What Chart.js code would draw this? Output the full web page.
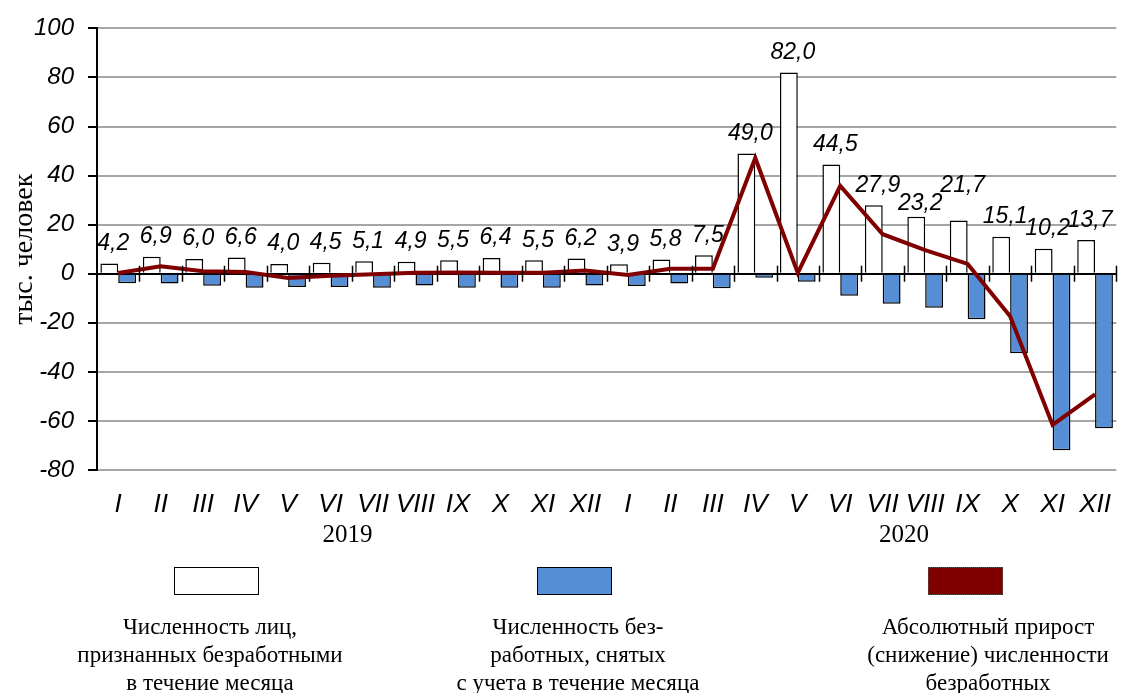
<!DOCTYPE html>
<html lang="ru">
<head>
<meta charset="utf-8">
<title>Безработные</title>
<script src="https://cdn.jsdelivr.net/npm/chart.js@4.4.1/dist/chart.umd.min.js"></script>
<style>
  body { margin: 0; background: #fff; }
  #wrap { position: relative; width: 1130px; height: 693px; }
  .box { position: absolute; top: 567px; height: 28px; box-sizing: border-box; border: 1.5px solid #000; }
  .txt { position: absolute; top: 613px; width: 360px; text-align: center; color: #000;
         font: 23px "Liberation Serif", "Times New Roman", serif; line-height: 28px; }
</style>
</head>
<body>
<div id="wrap">
  <canvas id="chart" width="1130" height="693"></canvas>
  <div class="box" style="left:174px;width:85px;background:#fff;"></div>
  <div class="box" style="left:537px;width:75px;background:#558ed5;"></div>
  <div class="box" style="left:928px;width:75px;background:#800000;border:1.5px dotted #555;"></div>
  <div class="txt" style="left:30px;">Численность лиц,<br>признанных безработными<br>в течение месяца</div>
  <div class="txt" style="left:398px;">Численность без-<br>работных, снятых<br>с учета в течение месяца</div>
  <div class="txt" style="left:808px;">Абсолютный прирост<br>(снижение) численности<br>безработных</div>
</div>
<script>
// данные: 2019-2020, тыс. человек
const months = ['I','II','III','IV','V','VI','VII','VIII','IX','X','XI','XII',
                'I','II','III','IV','V','VI','VII','VIII','IX','X','XI','XII'];
const years = ['2019', '2020'];
const yearAt = [5.4, 18.5];   // положение подписи года (индекс месяца)

// признаны безработными в течение месяца
const registered = [4.2, 6.9, 6.0, 6.6, 4.0, 4.5, 5.1, 4.9, 5.5, 6.4, 5.5, 6.2,
                    3.9, 5.8, 7.5, 49.0, 82.0, 44.5, 27.9, 23.2, 21.7, 15.1, 10.2, 13.7];
const removed = [-3.9, -4.0, -4.9, -5.7, -5.4, -5.4, -5.7, -4.8, -5.7, -5.7, -5.7, -4.8,
                 -5.0, -4.0, -5.9, -1.6, -3.3, -9.0, -12.2, -13.9, -18.6, -32.4, -72.0, -63.0];
// абсолютный прирост (снижение)
const change = [0.3, 3.0, 1.0, 0.7, -1.7, -0.8, -0.2, 0.4, 0.5, 0.4, 0.4, 1.3,
                -0.5, 2.0, 2.0, 47.2, 0.3, 35.8, 16.1, 9.6, 4.0, -17.3, -61.6, -49.2];

const sans = "'Liberation Sans', Arial, sans-serif";
const serif = "'Liberation Serif', 'Times New Roman', serif";

// подписи над белыми столбиками
const barLabels = {
  id: 'barLabels',
  afterDatasetsDraw(chart) {
    const ctx = chart.ctx;
    const meta = chart.getDatasetMeta(1);
    const nudge = { 19: 7, 20: -15 };
    ctx.save();
    ctx.font = 'italic 23px ' + sans;
    ctx.fillStyle = '#000';
    ctx.textAlign = 'center';
    ctx.textBaseline = 'middle';
    meta.data.forEach((bar, i) => {
      const txt = registered[i].toFixed(1).replace('.', ',');
      ctx.fillText(txt, bar.x + 4, bar.y - 20 + (nudge[i] || 0));
    });
    ctx.restore();
  }
};

// засечки на нулевой линии и подписи годов
const axisExtras = {
  id: 'axisExtras',
  afterDraw(chart) {
    const ctx = chart.ctx;
    const x = chart.scales.x, y = chart.scales.y;
    const y0 = y.getPixelForValue(0);
    ctx.save();
    ctx.strokeStyle = '#000';
    ctx.lineWidth = 1.5;
    for (let i = 1; i <= months.length; i++) {
      const px = Math.round(x.getPixelForValue(i - 0.5)) + 0.5;
      ctx.beginPath();
      ctx.moveTo(px, y0 - 8);
      ctx.lineTo(px, y0 + 8);
      ctx.stroke();
    }
    ctx.font = '25px ' + serif;
    ctx.fillStyle = '#000';
    ctx.textAlign = 'center';
    ctx.textBaseline = 'middle';
    years.forEach((yr, i) => {
      ctx.fillText(yr, x.getPixelForValue(yearAt[i]), x.top + 65);
    });
    ctx.restore();
  }
};

new Chart(document.getElementById('chart'), {
  data: {
    labels: months,
    datasets: [
      {
        type: 'line',
        label: 'Абсолютный прирост (снижение) численности безработных',
        data: change,
        borderColor: '#800000',
        borderWidth: 4,
        pointRadius: 0,
        tension: 0,
        order: 0
      },
      {
        type: 'bar',
        label: 'Численность лиц, признанных безработными в течение месяца',
        data: registered,
        backgroundColor: '#ffffff',
        borderColor: '#000',
        borderWidth: 1.5,
        categoryPercentage: 0.84,
        barPercentage: 1,
        order: 1
      },
      {
        type: 'bar',
        label: 'Численность безработных, снятых с учета в течение месяца',
        data: removed,
        backgroundColor: '#558ed5',
        borderColor: '#000',
        borderWidth: 1.5,
        categoryPercentage: 0.84,
        barPercentage: 1,
        order: 1
      }
    ]
  },
  options: {
    responsive: false,
    animation: false,
    layout: { padding: { top: 22, right: 2, left: 0, bottom: 0 } },
    plugins: {
      legend: { display: false },
      tooltip: { enabled: false }
    },
    scales: {
      x: {
        grid: { display: false, drawTicks: false },
        border: { display: false },
        ticks: { autoSkip: false, maxRotation: 0, padding: 19, color: '#000',
                 font: { family: sans, style: 'italic', size: 26 } },
        afterFit(scale) { scale.height = 223; }
      },
      y: {
        min: -80,
        max: 100,
        ticks: { stepSize: 20, padding: 14, color: '#000',
                 font: { family: sans, style: 'italic', size: 24 } },
        grid: {
          color: c => c.tick && c.tick.value === 0 ? '#000' : '#a6a6a6',
          lineWidth: 2,
          tickColor: '#000',
          tickLength: 9
        },
        border: { color: '#000', width: 2 },
        title: {
          display: true,
          text: 'тыс. человек',
          color: '#000',
          font: { family: serif, size: 28 },
          padding: { top: 8, bottom: 0 }
        },
        afterFit(scale) { scale.width = 97; }
      }
    }
  },
  plugins: [barLabels, axisExtras]
});
</script>
</body>
</html>
